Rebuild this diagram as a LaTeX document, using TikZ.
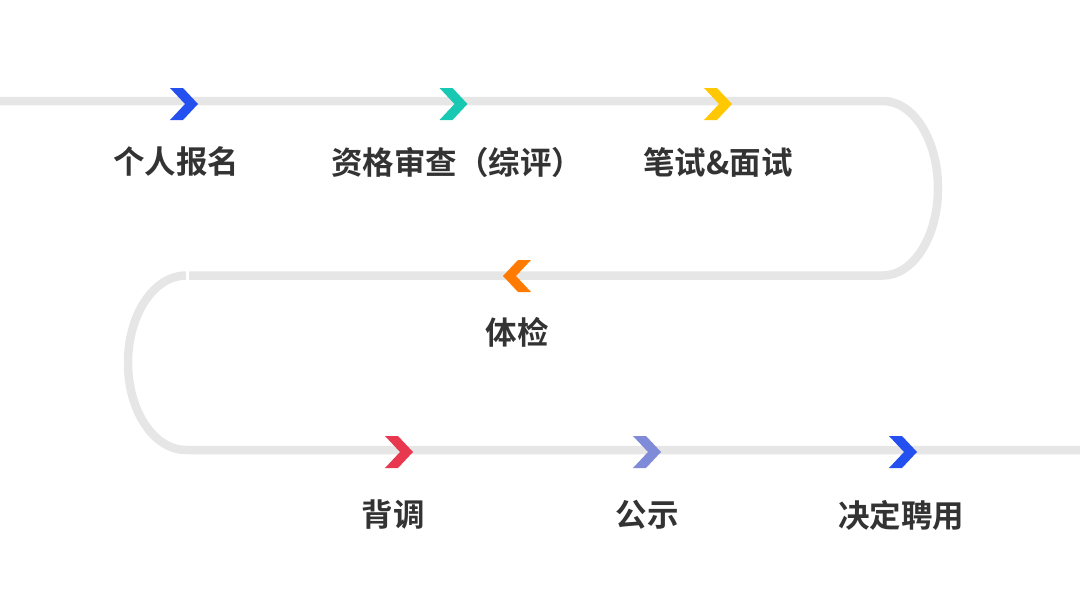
\documentclass[tikz,border=0pt]{standalone}
\usepackage{fontspec}
\newfontfamily\cjk{Noto Sans CJK SC}[BoldFont={Noto Sans CJK SC Bold}]
\definecolor{trackgray}{HTML}{E6E6E6}
\definecolor{txtgray}{HTML}{333333}
\definecolor{cblue}{HTML}{2450F0}
\definecolor{cteal}{HTML}{17C9B2}
\definecolor{cyellow}{HTML}{FFC800}
\definecolor{corange}{HTML}{FF7A00}
\definecolor{cred}{HTML}{E8384F}
\definecolor{cpurple}{HTML}{7F8AD9}
\tikzset{
  track/.style={draw=trackgray,line width=8.5pt},
  steplabel/.style={text=txtgray,font=\cjk\bfseries\fontsize{31.5}{38}\selectfont,inner sep=0pt,anchor=center},
  pics/chevright/.style={code={
    \fill (-14,-16) -- (-1,-16) -- (14,0) -- (-1,16) -- (-14,16) -- (1,0) -- cycle;}},
  pics/chevleft/.style={code={
    \fill (14,-16) -- (1,-16) -- (-14,0) -- (1,16) -- (14,16) -- (-1,0) -- cycle;}}
}
\begin{document}
\begin{tikzpicture}[x=1pt,y=-1pt]
\useasboundingbox (0,0) rectangle (1080,608);
% track
\coordinate (s) at (0,101);
\coordinate (r1) at (883,101);
\coordinate (m1) at (189,275.5);
\coordinate (l1) at (186,275.5);
\coordinate (e) at (1080,450);
\draw[track] (s) -- (r1) arc[start angle=-90,end angle=90,x radius=55,y radius=87.25] -- (m1);
\draw[track] (l1) arc[start angle=-90,end angle=-270,x radius=58,y radius=87.25] -- (e);
% chevrons
\pic[fill=cblue] (c1) at (184,104) {chevright};
\pic[fill=cteal] (c2) at (453.5,104) {chevright};
\pic[fill=cyellow] (c3) at (718,104) {chevright};
\pic[fill=corange] (c4) at (517,276) {chevleft};
\pic[fill=cred] (c5) at (399,452) {chevright};
\pic[fill=cpurple] (c6) at (647,452) {chevright};
\pic[fill=cblue] (c7) at (903,452) {chevright};
% labels
\node[steplabel] (t1) at (176,161) {个人报名};
\node[steplabel] (t2) at (457,162) {资格审查（综评）};
\node[steplabel] (t3) at (718,162) {笔试\&面试};
\node[steplabel] (t4) at (517,332) {体检};
\node[steplabel] (t5) at (393,515) {背调};
\node[steplabel] (t6) at (647,515) {公示};
\node[steplabel] (t7) at (901,515) {决定聘用};
\end{tikzpicture}
\end{document}
